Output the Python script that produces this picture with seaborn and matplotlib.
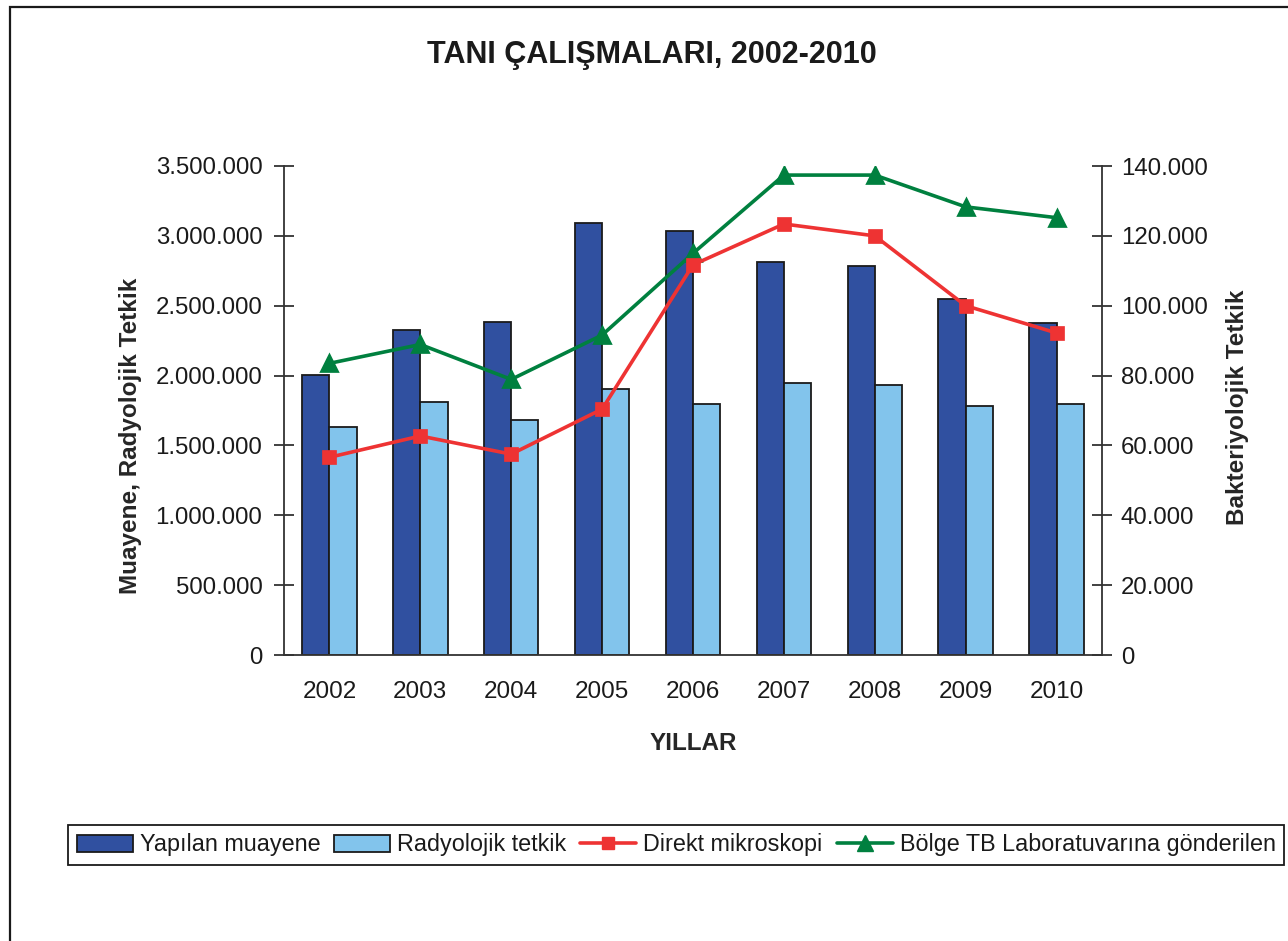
import matplotlib
matplotlib.use('Agg')
import matplotlib.pyplot as plt
import matplotlib.ticker as mticker
from matplotlib.patches import Patch, Rectangle
from matplotlib.lines import Line2D
import seaborn as sns
import pandas as pd
import numpy as np

# --- data ---
yillar = ['2002', '2003', '2004', '2005', '2006', '2007', '2008', '2009', '2010']
yapilan_muayene = [2005000, 2326000, 2381000, 3092000, 3037000, 2811000, 2784000, 2546000, 2379000]
radyolojik_tetkik = [1630000, 1809000, 1682000, 1906000, 1794000, 1947000, 1933000, 1782000, 1794000]
direkt_mikroskopi = [56600, 62700, 57500, 70400, 111700, 123400, 120000, 100000, 92200]
bolge_tb_lab = [83500, 88900, 78900, 91600, 115000, 137400, 137400, 128300, 125200]

seri_adlari = ['Yapılan muayene', 'Radyolojik tetkik',
               'Direkt mikroskopi', 'Bölge TB Laboratuvarına gönderilen']

# colours
KOYU_MAVI = '#3050a0'
ACIK_MAVI = '#82c4ec'
KIRMIZI = '#ee3333'
YESIL = '#00803f'
KENAR = '#1a1a1a'

sns.set_theme(style='white')
plt.rcParams['font.family'] = ['Liberation Sans', 'DejaVu Sans']
plt.rcParams['text.color'] = KENAR
plt.rcParams['xtick.color'] = KENAR
plt.rcParams['ytick.color'] = KENAR

bars = pd.DataFrame({
    'yil': yillar * 2,
    'seri': [seri_adlari[0]] * len(yillar) + [seri_adlari[1]] * len(yillar),
    'deger': yapilan_muayene + radyolojik_tetkik,
})

fig = plt.figure(figsize=(12.88, 9.41), dpi=100)
ax = fig.add_axes([284 / 1288, 1 - 655 / 941, 818 / 1288, 489 / 941])

sns.barplot(data=bars, x='yil', y='deger', hue='seri',
            palette=[KOYU_MAVI, ACIK_MAVI], saturation=1, width=0.6,
            edgecolor=KENAR, linewidth=1.3, legend=False, ax=ax)

ax2 = ax.twinx()
sns.pointplot(x=yillar, y=bolge_tb_lab, color=YESIL, markers='^',
              errorbar=None, markersize=11, linewidth=2.6, ax=ax2)
sns.pointplot(x=yillar, y=direkt_mikroskopi, color=KIRMIZI, markers='s',
              errorbar=None, markersize=8.5, linewidth=2.6, ax=ax2)

# axes limits and ticks
ax.set_xlim(-0.5, len(yillar) - 0.5)
ax.set_ylim(0, 3500000)
ax.set_yticks(np.arange(0, 3500001, 500000))
ax2.set_ylim(0, 140000)
ax2.set_yticks(np.arange(0, 140001, 20000))

fmt = mticker.FuncFormatter(lambda v, p: f'{v:,.0f}'.replace(',', '.'))
ax.yaxis.set_major_formatter(fmt)
ax2.yaxis.set_major_formatter(fmt)

ax.set_xticks(range(len(yillar)))
ax.set_xticklabels(yillar)
ax.set_xticks(np.arange(-0.5, len(yillar), 1), minor=True)
ax.tick_params(axis='x', which='major', length=0, labelsize=17.5, pad=19)
ax.tick_params(axis='x', which='minor', direction='inout', length=13, width=1.3, color='#333333')
ax.tick_params(axis='y', direction='inout', length=15, width=1.3, labelsize=17.3, pad=8,
               color='#333333', left=True)
ax2.tick_params(axis='y', direction='inout', length=15, width=1.3, labelsize=17.3, pad=6,
                color='#333333', right=True)
ax2.tick_params(axis='x', which='both', bottom=False, top=False, labelbottom=False)

for s in ['top', 'right']:
    ax.spines[s].set_visible(False)
for s in ['top', 'left', 'bottom']:
    ax2.spines[s].set_visible(False)
for sp in [ax.spines['left'], ax.spines['bottom'], ax2.spines['right']]:
    sp.set_color('#333333')
    sp.set_linewidth(1.3)

ax.set_xlabel('YILLAR', fontsize=17.5, fontweight='bold')
ax.xaxis.set_label_coords(0.5, -0.157)
ax.set_ylabel('Muayene, Radyolojik Tetkik', fontsize=17.5, fontweight='bold')
ax.yaxis.set_label_coords(-0.173, 0.448)
ax2.set_ylabel('Bakteriyolojik Tetkik', fontsize=17.5, fontweight='bold')
ax2.yaxis.set_label_coords(1.152, 0.507)
ax2.set_xlabel('')

fig.text(652 / 1288, 1 - 55 / 941, 'TANI ÇALIŞMALARI, 2002-2010',
         ha='center', va='center', fontsize=22, fontweight='bold')

# legend
handles = [
    Patch(facecolor=KOYU_MAVI, edgecolor=KENAR, linewidth=1.3),
    Patch(facecolor=ACIK_MAVI, edgecolor=KENAR, linewidth=1.3),
    Line2D([], [], color=KIRMIZI, marker='s', markersize=8.5, linewidth=2.6),
    Line2D([], [], color=YESIL, marker='^', markersize=11, linewidth=2.6),
]
leg = fig.legend(handles, seri_adlari, ncol=4, loc='center',
                 bbox_to_anchor=(676 / 1288, 1 - 845 / 941),
                 fontsize=16.8, frameon=True, fancybox=False, framealpha=1,
                 edgecolor=KENAR, handlelength=2.4, handletextpad=0.3,
                 columnspacing=0.6, borderpad=0.35, borderaxespad=0)
leg.get_frame().set_linewidth(1.3)

# outer frame of the chart area
fig.add_artist(Rectangle((10 / 1288, -0.05), 1.2, 1.05 - 7 / 941,
                         transform=fig.transFigure, fill=False,
                         edgecolor=KENAR, linewidth=1.6))

plt.savefig('out.png', dpi=100)
